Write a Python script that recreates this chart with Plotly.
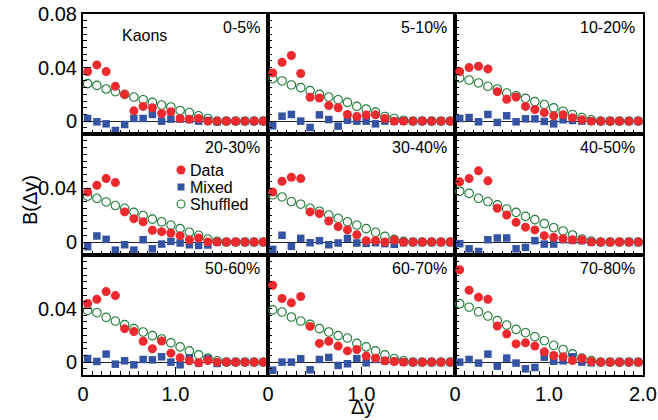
import plotly.graph_objects as go

dy = [0.05, 0.15, 0.25, 0.35, 0.45, 0.55, 0.65, 0.75, 0.85, 0.95,
      1.05, 1.15, 1.25, 1.35, 1.45, 1.55, 1.65, 1.75, 1.85, 1.95]

centralities = ["0-5%", "5-10%", "10-20%", "20-30%", "30-40%", "40-50%",
                "50-60%", "60-70%", "70-80%"]

data_vals = [
    [0.037, 0.042, 0.037, 0.026, 0.020, 0.0077, 0.011, 0.010, 0.0057, 0.007, 0.002, 0.0015, 0.002, 0.0, 0.0, 0.0, 0.0, 0.0, 0.0, 0.0],
    [0.036, 0.044, 0.049, 0.0356, 0.0178, 0.0173, 0.0116, 0.010, 0.005, 0.0035, 0.0045, 0.0047, 0.002, 0.0, 0.0, 0.0, 0.0, 0.0, 0.0, 0.0],
    [0.037, 0.040, 0.041, 0.039, 0.022, 0.0163, 0.018, 0.011, 0.0087, 0.0064, 0.004, 0.0047, 0.0025, 0.001, 0.0, 0.0, 0.0, 0.0, 0.0, 0.0],
    [0.037, 0.042, 0.047, 0.044, 0.0223, 0.0173, 0.015, 0.0087, 0.0077, 0.0067, 0.0047, 0.0017, 0.003, 0.0, 0.0, 0.0, 0.0, 0.0, 0.0, 0.0],
    [0.037, 0.045, 0.048, 0.047, 0.0223, 0.021, 0.0156, 0.0114, 0.009, 0.0054, 0.001, 0.001, 0.0, 0.0015, 0.0, 0.0, 0.0, 0.0, 0.0, 0.0],
    [0.0446, 0.047, 0.0527, 0.0453, 0.025, 0.020, 0.0146, 0.011, 0.009, 0.0047, 0.0035, 0.0025, 0.0017, 0.0015, 0.0, 0.0, 0.0, 0.0, 0.0, 0.0],
    [0.0438, 0.047, 0.0527, 0.0497, 0.025, 0.0228, 0.0156, 0.010, 0.0158, 0.0067, 0.0032, 0.001, -0.0005, 0.0012, 0.0, 0.0, 0.0, 0.0, 0.0, 0.0],
    [0.0574, 0.0475, 0.0443, 0.049, 0.0267, 0.014, 0.0156, 0.012, 0.0084, 0.0094, 0.0045, 0.003, 0.001, 0.0005, 0.0, 0.0, 0.0, 0.0, 0.0, 0.0],
    [0.069, 0.0537, 0.0485, 0.047, 0.027, 0.021, 0.0136, 0.0144, 0.012, 0.0077, 0.005, 0.004, 0.0012, 0.0027, 0.0005, 0.0, 0.0, 0.0, 0.0, 0.0],
]

shuffled_vals = [
    [0.028, 0.0267, 0.024, 0.022, 0.020, 0.018, 0.016, 0.014, 0.012, 0.0106, 0.008, 0.0064, 0.004, 0.002, 0.0, 0.0, 0.0, 0.0, 0.0, 0.0],
    [0.0317, 0.030, 0.027, 0.025, 0.0228, 0.020, 0.018, 0.016, 0.014, 0.011, 0.009, 0.0067, 0.0035, 0.002, 0.0007, 0.0, 0.0, 0.0, 0.0, 0.0],
    [0.0324, 0.0307, 0.0285, 0.026, 0.024, 0.021, 0.019, 0.017, 0.0146, 0.0124, 0.0099, 0.0074, 0.005, 0.0027, 0.001, 0.0, 0.0, 0.0, 0.0, 0.0],
    [0.034, 0.0324, 0.0297, 0.027, 0.025, 0.022, 0.0196, 0.017, 0.015, 0.0126, 0.0099, 0.0072, 0.005, 0.0022, 0.0005, 0.0, 0.0, 0.0, 0.0, 0.0],
    [0.035, 0.0334, 0.030, 0.028, 0.025, 0.0228, 0.020, 0.0176, 0.015, 0.0126, 0.0099, 0.0072, 0.0042, 0.002, 0.0005, 0.0, 0.0, 0.0, 0.0, 0.0],
    [0.0376, 0.036, 0.0324, 0.030, 0.0275, 0.0245, 0.022, 0.019, 0.0166, 0.0136, 0.0106, 0.0082, 0.0052, 0.0022, 0.0007, 0.0, 0.0, 0.0, 0.0, 0.0],
    [0.0386, 0.0369, 0.0334, 0.0307, 0.028, 0.025, 0.0225, 0.0198, 0.0173, 0.0144, 0.0114, 0.0084, 0.0054, 0.003, 0.001, 0.0, 0.0, 0.0, 0.0, 0.0],
    [0.039, 0.0374, 0.0337, 0.0307, 0.0282, 0.025, 0.0225, 0.0198, 0.018, 0.014, 0.0114, 0.0084, 0.0054, 0.0027, 0.001, 0.0, 0.0, 0.0, 0.0, 0.0],
    [0.0436, 0.041, 0.0376, 0.0344, 0.031, 0.0277, 0.0245, 0.022, 0.019, 0.016, 0.0126, 0.0094, 0.0062, 0.003, 0.0012, 0.0, 0.0, 0.0, 0.0, 0.0],
]

mixed_vals = [
    [0.002, -0.0005, -0.002, -0.007, -0.0025, 0.002, 0.002, 0.005, 0.0, 0.0015, 0.0015, 0.0012, 0.0, 0.0005, -0.0005, 0.0, 0.0, 0.0, 0.0, 0.0],
    [-0.0035, 0.0037, 0.005, 0.0, -0.0047, 0.0047, 0.0012, -0.0037, 0.0007, 0.0, 0.0, -0.002, 0.0, 0.0, 0.0, 0.0, 0.0, 0.0, 0.0, 0.0],
    [0.002, 0.0027, -0.0005, 0.005, -0.001, 0.004, -0.0005, 0.0017, 0.0017, -0.0002, -0.002, 0.001, 0.0005, 0.0, 0.0, 0.0, 0.0, 0.0, 0.0, 0.0],
    [-0.0035, 0.0045, 0.002, -0.006, -0.002, -0.006, 0.0017, -0.005, -0.0015, 0.0005, -0.0007, -0.002, -0.0025, -0.0022, 0.0, 0.0, 0.0, 0.0, 0.0, 0.0],
    [-0.0054, 0.005, -0.0032, 0.0027, -0.0005, 0.001, -0.002, -0.0007, 0.0027, -0.0007, -0.001, -0.0005, -0.0012, -0.0017, -0.0005, 0.0, 0.0, 0.0, 0.0, 0.0],
    [-0.0012, -0.005, -0.007, 0.0017, 0.003, 0.003, -0.005, -0.004, 0.001, -0.0015, -0.0015, 0.0017, 0.0012, 0.001, 0.0, 0.0, 0.0, 0.0, 0.0, 0.0],
    [0.0027, 0.0005, 0.006, -0.0015, 0.001, -0.002, 0.002, 0.0017, 0.004, 0.0, -0.002, 0.003, -0.0007, 0.0025, -0.001, 0.0, 0.0, 0.0, 0.0, 0.0],
    [-0.006, 0.0, 0.0, 0.0025, -0.0057, 0.002, 0.0035, -0.0025, -0.0012, 0.0027, -0.0005, 0.002, 0.001, 0.0007, 0.0, 0.0, 0.0, 0.0, 0.0, 0.0],
    [0.0, 0.002, -0.0007, 0.006, -0.003, 0.003, -0.0007, -0.005, -0.004, 0.0037, 0.0007, 0.001, 0.004, 0.0, -0.0005, 0.0, 0.0, 0.0, 0.0, 0.0],
]

# statistical errors (visible mainly for the most peripheral bin)
data_err = [0.0004, 0.0005, 0.0005, 0.0006, 0.0007, 0.0008, 0.0010, 0.0013, 0.0025]
mixed_err = [0.0004, 0.0005, 0.0005, 0.0006, 0.0007, 0.0008, 0.0010, 0.0013, 0.0022]

x_ticks_bottom = [[0, 1.0], [0, 1.0], [0, 1.0, 2.0]]
x_ticktext_bottom = [["0", "1.0"], ["0", "1.0"], ["0", "1.0", "2.0"]]
y_ticks_top = [0, 0.04, 0.08]
y_ticktext_top = ["0", "0.04", "0.08"]
y_ticks_other = [0, 0.04]
y_ticktext_other = ["0", "0.04"]

legend_labels = ["Data", "Mixed", "Shuffled"]

RED = "#ee2a2e"
BLUE = "#3553a3"
GREEN = "#1e7b37"
FONT = "Liberation Sans, Arial, Helvetica, sans-serif"

W, H = 658, 420
ML, MR, MT, MB = 83, 15, 14, 45
PW, PH = W - ML - MR, H - MT - MB
col_px = [83, 268, 455, 643]
row_px = [14, 134, 255, 375]


def px_x(p):
    return (p - ML) / PW


def px_y(p):
    return 1 - (p - MT) / PH


fig = go.Figure()
layout = dict(
    width=W, height=H,
    margin=dict(l=ML, r=MR, t=MT, b=MB, autoexpand=False),
    paper_bgcolor="white", plot_bgcolor="white",
    font=dict(family=FONT, color="black"),
    showlegend=False,
)

for i, cent in enumerate(centralities):
    r, c = divmod(i, 3)
    n = i + 1
    xa = "x" if n == 1 else f"x{n}"
    ya = "y" if n == 1 else f"y{n}"
    fig.add_trace(go.Scatter(
        x=dy, y=shuffled_vals[i], xaxis=xa, yaxis=ya, mode="markers",
        name="Shuffled", cliponaxis=True,
        marker=dict(symbol="circle-open", size=8.5, color=GREEN, line=dict(width=1.1, color=GREEN)),
    ))
    fig.add_trace(go.Scatter(
        x=dy, y=mixed_vals[i], xaxis=xa, yaxis=ya, mode="markers",
        name="Mixed", cliponaxis=True,
        error_y=dict(type="constant", value=mixed_err[i], color=BLUE, thickness=1, width=0),
        marker=dict(symbol="square", size=7.5, color=BLUE),
    ))
    fig.add_trace(go.Scatter(
        x=dy, y=data_vals[i], xaxis=xa, yaxis=ya, mode="markers",
        name="Data", cliponaxis=True,
        error_y=dict(type="constant", value=data_err[i], color=RED, thickness=1, width=0),
        marker=dict(symbol="circle", size=9, color=RED),
    ))

    xkey = "xaxis" if n == 1 else f"xaxis{n}"
    ykey = "yaxis" if n == 1 else f"yaxis{n}"
    bottom = (r == 2)
    left = (c == 0)
    layout[xkey] = dict(
        domain=[px_x(col_px[c]), px_x(col_px[c + 1])], anchor=ya, range=[0, 2.0],
        showline=True, linecolor="black", linewidth=2, mirror=True,
        ticks="inside", ticklen=8, tickwidth=1, tickcolor="black",
        tickmode="array",
        tickvals=x_ticks_bottom[c] if bottom else [0, 1.0, 2.0],
        ticktext=x_ticktext_bottom[c] if bottom else ["", "", ""],
        showticklabels=bottom, automargin=False,
        tickfont=dict(size=20, family=FONT, color="black"),
        minor=dict(ticks="inside", ticklen=4, tickwidth=1, tickcolor="black",
                   tickmode="linear", tick0=0, dtick=0.1, showgrid=False),
        showgrid=False, zeroline=False, fixedrange=True,
    )
    layout[ykey] = dict(
        domain=[px_y(row_px[r + 1]), px_y(row_px[r])], anchor=xa, range=[-0.0096, 0.08],
        showline=True, linecolor="black", linewidth=2, mirror=True,
        ticks="inside", ticklen=8, tickwidth=1, tickcolor="black",
        tickmode="array",
        tickvals=(y_ticks_top if r == 0 else y_ticks_other) if left else [0, 0.04, 0.08],
        ticktext=(y_ticktext_top if r == 0 else y_ticktext_other) if left else ["", "", ""],
        showticklabels=left, automargin=False,
        tickfont=dict(size=20, family=FONT, color="black"),
        minor=dict(ticks="inside", ticklen=4, tickwidth=1, tickcolor="black",
                   tickmode="linear", tick0=0, dtick=0.005, showgrid=False),
        showgrid=False, zeroline=True, zerolinecolor="#222222", zerolinewidth=1,
        fixedrange=True,
    )

annotations = []
for i, cent in enumerate(centralities):
    r, c = divmod(i, 3)
    annotations.append(dict(
        text=cent, xref="paper", yref="paper",
        x=px_x(col_px[c + 1] - 6), y=px_y(row_px[r] + 3),
        xanchor="right", yanchor="top", showarrow=False,
        font=dict(size=16, family=FONT, color="black"),
    ))
annotations.append(dict(
    text="Kaons", xref="paper", yref="paper", x=px_x(120), y=px_y(35),
    xanchor="left", yanchor="middle", showarrow=False,
    font=dict(size=16, family=FONT, color="black"),
))
annotations.append(dict(
    text="B(Δy)", xref="paper", yref="paper", x=px_x(30), y=px_y(200),
    xanchor="center", yanchor="middle", showarrow=False, textangle=-90,
    font=dict(size=20, family=FONT, color="black"),
))
annotations.append(dict(
    text="Δy", xref="paper", yref="paper", x=px_x(362), y=px_y(420),
    xanchor="center", yanchor="bottom", showarrow=False,
    font=dict(size=20, family=FONT, color="black"),
))

# manual legend (Data / Mixed / Shuffled) inside the 20-30% panel
leg_x, leg_y0, leg_dy = 181, 170, 17
shapes = []
for k, lab in enumerate(legend_labels):
    cy = leg_y0 + k * leg_dy
    annotations.append(dict(
        text=lab, xref="paper", yref="paper", x=px_x(leg_x + 7), y=px_y(cy),
        xanchor="left", yanchor="middle", showarrow=False,
        font=dict(size=16, family=FONT, color="black"),
    ))
    if lab == "Data":
        shapes.append(dict(type="circle", xref="paper", yref="paper",
                           x0=px_x(leg_x - 4.5), x1=px_x(leg_x + 4.5),
                           y0=px_y(cy + 4.5), y1=px_y(cy - 4.5),
                           fillcolor=RED, line=dict(width=0)))
    elif lab == "Mixed":
        shapes.append(dict(type="rect", xref="paper", yref="paper",
                           x0=px_x(leg_x - 3.5), x1=px_x(leg_x + 3.5),
                           y0=px_y(cy + 3.5), y1=px_y(cy - 3.5),
                           fillcolor=BLUE, line=dict(width=0)))
    else:
        shapes.append(dict(type="circle", xref="paper", yref="paper",
                           x0=px_x(leg_x - 4), x1=px_x(leg_x + 4),
                           y0=px_y(cy + 4), y1=px_y(cy - 4),
                           fillcolor="rgba(0,0,0,0)", line=dict(width=1.1, color=GREEN)))

layout["annotations"] = annotations
layout["shapes"] = shapes

fig.update_layout(**layout)
fig.write_html("out.html", config={"displayModeBar": False},
               post_script="document.body.style.margin='0px';document.body.style.overflow='hidden';")
